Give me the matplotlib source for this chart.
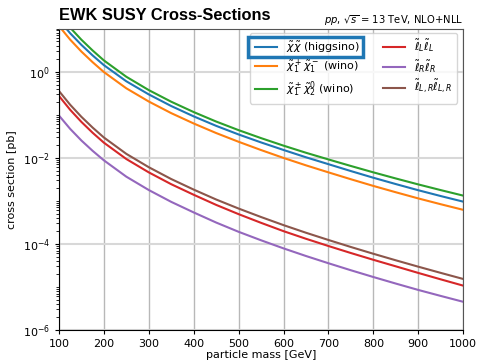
import matplotlib
matplotlib.use("Agg")
import matplotlib.pyplot as plt
import numpy as np
from matplotlib.patches import Rectangle
from matplotlib.ticker import LogLocator, NullFormatter, FixedLocator

mass = [100, 125, 150, 175, 200, 250, 300, 350, 400, 450, 500, 550, 600, 650,
        700, 750, 800, 850, 900, 950, 1000]

# log10 of cross section [pb]
log_higgsino = [1.20, 0.89, 0.62, 0.375, 0.15, -0.225, -0.53, -0.80, -1.04, -1.26, -1.46,
                -1.645, -1.82, -1.99, -2.15, -2.31, -2.465, -2.612, -2.755, -2.89, -3.02]
log_c1c1_wino = [1.06, 0.742, 0.465, 0.218, -0.01, -0.388, -0.695, -0.965, -1.205, -1.427, -1.63,
                 -1.822, -2.005, -2.177, -2.34, -2.50, -2.655, -2.802, -2.945, -3.08, -3.21]
log_c1n2_wino = [1.34, 1.02, 0.74, 0.49, 0.26, -0.12, -0.43, -0.70, -0.94, -1.16, -1.36,
                 -1.545, -1.72, -1.885, -2.04, -2.192, -2.34, -2.482, -2.62, -2.752, -2.88]
log_slep_LL = [-0.565, -0.887, -1.168, -1.42, -1.65, -2.03, -2.34, -2.615, -2.86, -3.095, -3.31,
               -3.512, -3.705, -3.882, -4.05, -4.213, -4.37, -4.522, -4.675, -4.824, -4.97]
log_slep_RR = [-1.02, -1.33, -1.60, -1.84, -2.06, -2.44, -2.75, -3.025, -3.27, -3.505, -3.72,
               -3.917, -4.105, -4.282, -4.45, -4.613, -4.77, -4.922, -5.07, -5.209, -5.345]
log_slep_LR = [-0.45, -0.77, -1.05, -1.30, -1.53, -1.91, -2.22, -2.495, -2.74, -2.97, -3.18,
               -3.377, -3.565, -3.742, -3.91, -4.073, -4.23, -4.382, -4.53, -4.674, -4.815]

labels = [r'$\tilde{\chi}\tilde{\chi}$ (higgsino)',
          r'$\tilde{\chi}_1^+\tilde{\chi}_1^-$ (wino)',
          r'$\tilde{\chi}_1^\pm\tilde{\chi}_2^0$ (wino)',
          r'$\tilde{\ell}_L\tilde{\ell}_L$',
          r'$\tilde{\ell}_R\tilde{\ell}_R$',
          r'$\tilde{\ell}_{L,R}\tilde{\ell}_{L,R}$']
series = [log_higgsino, log_c1c1_wino, log_c1n2_wino, log_slep_LL, log_slep_RR, log_slep_LR]
colors = ['#1f77b4', '#ff7f0e', '#2ca02c', '#d62728', '#9467bd', '#8c564b']

xticks = [100, 200, 300, 400, 500, 600, 700, 800, 900, 1000]
yticks = [1e-6, 1e-4, 1e-2, 1e0]

fig = plt.figure(figsize=(4.79, 3.64), dpi=100)
ax = fig.add_axes([0.123, 0.0934, 0.844, 0.8283])

for s, lab, c in zip(series, labels, colors):
    ax.plot(mass, np.power(10.0, s), color=c, lw=1.5, label=lab)

ax.set_yscale('log')
ax.set_xlim(100, 1000)
ax.set_ylim(1e-6, 10)
ax.set_xticks(xticks)
ax.yaxis.set_major_locator(FixedLocator(yticks))
ax.yaxis.set_minor_locator(LogLocator(base=10, subs=[1, 2, 3, 4, 5, 6, 7, 8, 9], numticks=20))
ax.yaxis.set_minor_formatter(NullFormatter())
ax.tick_params(labelsize=8, length=3)
ax.tick_params(which='minor', length=2)
ax.grid(axis='x', color='#b8b8b8', lw=1.0)
ax.grid(axis='y', which='major', color='#d8d8d8', lw=1.5)
ax.set_axisbelow(True)
for side in ['top', 'right']:
    ax.spines[side].set_color('#555555')
ax.set_xlabel('particle mass [GeV]', fontsize=8, labelpad=1)
ax.set_ylabel('cross section [pb]', fontsize=8, labelpad=4)

leg = ax.legend(ncol=2, loc='upper right', fontsize=8, frameon=True,
                bbox_to_anchor=(0.985, 0.985), borderaxespad=0.0, columnspacing=2.1,
                handlelength=2.0, borderpad=0.4, labelspacing=0.3)
leg.get_frame().set_edgecolor('#cccccc')

fig.text(0.123, 0.945, 'EWK SUSY Cross-Sections', fontsize=11.8, fontweight='bold',
         family='Liberation Sans', ha='left', va='baseline')
fig.text(0.966, 0.935, r'$pp$, $\sqrt{s}$ = 13 TeV, NLO+NLL', fontsize=7.2,
         ha='right', va='baseline')

fig.canvas.draw()
r = fig.canvas.get_renderer()
bb_line = leg.get_lines()[0].get_window_extent(r)
bb_text = leg.get_texts()[0].get_window_extent(r)
x0 = min(bb_line.x0, bb_text.x0) - 7
x1 = max(bb_line.x1, bb_text.x1) + 3
y0 = min(bb_line.y0, bb_text.y0) - 2
y1 = max(bb_line.y1, bb_text.y1) + 2
inv = fig.transFigure.inverted()
(fx0, fy0) = inv.transform((x0, y0))
(fx1, fy1) = inv.transform((x1, y1))
fig.patches.append(Rectangle((fx0, fy0), fx1 - fx0, fy1 - fy0, transform=fig.transFigure,
                             fill=False, edgecolor='#1f77b4', lw=2.5, zorder=10))

fig.savefig('out.png', dpi=100)
